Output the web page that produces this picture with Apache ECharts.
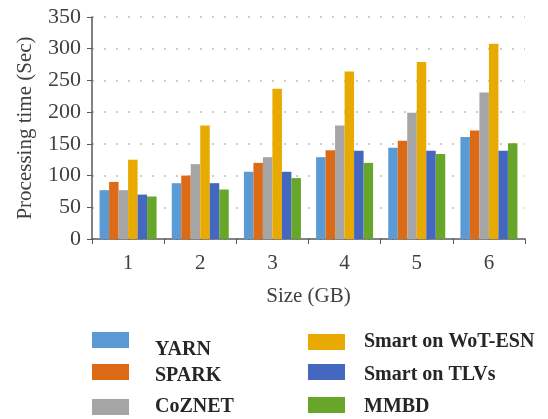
<!DOCTYPE html>
<html>
<head>
<meta charset="utf-8">
<script src="https://cdn.jsdelivr.net/npm/echarts@6/dist/echarts.min.js"></script>
<style>
  html, body { margin: 0; padding: 0; background: #fff; }
  #chart { width: 548px; height: 419px; }
</style>
</head>
<body>
<div id="chart"></div>
<script>
// 数据
var sizes = ["1", "2", "3", "4", "5", "6"];
var yarn = [77, 88, 106, 129, 144, 161];
var spark = [90, 100, 120, 140, 155, 171];
var coznet = [77, 118, 129, 179, 199, 231];
var wotEsn = [125, 179, 237, 264, 279, 308];
var tlvs = [70, 88, 106, 139, 139, 139];
var mmbd = [67, 78, 96, 120, 134, 151];

var names = ["YARN", "SPARK", "CoZNET", "Smart on WoT-ESN", "Smart on TLVs", "MMBD"];
var colors = ["#5B9BD5", "#DD6B15", "#A5A5A5", "#E8AA00", "#4468C0", "#67A62A"];
var values = [yarn, spark, coznet, wotEsn, tlvs, mmbd];

var font = "'Liberation Serif', 'DejaVu Serif', serif";

var series = [];
values.forEach(function (arr, i) {
    series.push({
        name: names[i],
        type: "bar",
        data: arr,
        barGap: "0%",
        barCategoryGap: "21%",
        itemStyle: { color: colors[i] }
    });
});

// 图注：每项单独放置
var legendLeft = [92, 92, 92, 308, 308, 308];
var legendTop = [332, 364, 397, 332, 364, 397];
var textGap = [21, 21, 21, 14, 14, 14];
// 文字向下偏移（上内边距）
var padTop = [20, 8, 0, 0, 6, 4];
var legends = [];
names.forEach(function (name, i) {
    legends.push({
        data: [name],
        left: legendLeft[i],
        top: legendTop[i],
        padding: 0,
        itemWidth: 37,
        itemHeight: 16,
        icon: "rect",
        selectedMode: false,
        formatter: "{t|{name}}",
        textStyle: {
            rich: {
                t: {
                    fontFamily: font,
                    fontSize: 20,
                    fontWeight: "bold",
                    color: "#262626",
                    padding: [padTop[i], 0, 0, textGap[i]]
                }
            }
        }
    });
});

var myChart = echarts.init(document.getElementById("chart"));
myChart.setOption({
    animation: false,
    legend: legends,
    grid: { left: 92, right: 23, top: 17, bottom: 180 },
    xAxis: {
        type: "category",
        data: sizes,
        name: "Size (GB)",
        nameLocation: "middle",
        nameGap: 47,
        nameTextStyle: { fontFamily: font, fontSize: 21, color: "#404040" },
        axisLine: { lineStyle: { color: "#595959", width: 1.5 } },
        axisTick: { show: true, length: 5, lineStyle: { color: "#595959" } },
        axisLabel: { fontFamily: font, fontSize: 21, color: "#404040", margin: 14 }
    },
    yAxis: {
        type: "value",
        min: 0,
        max: 350,
        interval: 50,
        name: "Processing time (Sec)",
        nameLocation: "middle",
        nameGap: 56,
        nameTextStyle: { fontFamily: font, fontSize: 21, color: "#404040" },
        axisLine: { show: true, lineStyle: { color: "#595959", width: 1.5 } },
        axisTick: { show: true, length: 5, lineStyle: { color: "#595959" } },
        axisLabel: { fontFamily: font, fontSize: 22, color: "#404040", margin: 11 },
        splitLine: { lineStyle: { color: "#BDBDBD", type: [2, 10], width: 1.5 } }
    },
    series: series
});
</script>
</body>
</html>
